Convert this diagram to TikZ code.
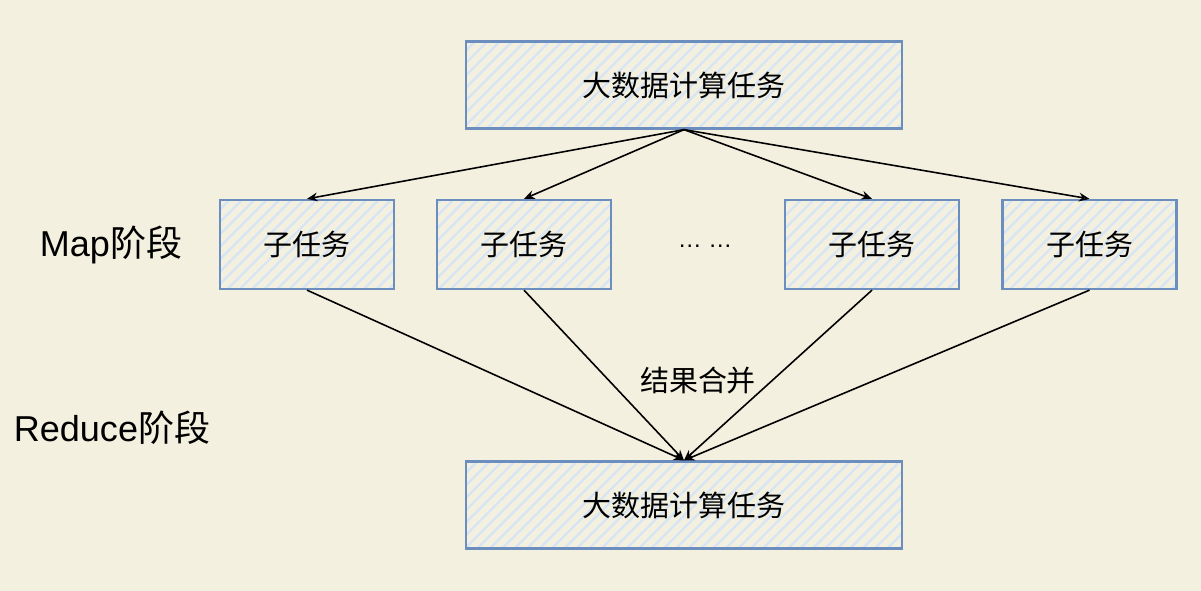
\documentclass[tikz,border=0pt]{standalone}
\usepackage{fontspec}
\setmainfont{Liberation Sans}
\newfontfamily\cjk{Noto Sans CJK SC}
\usetikzlibrary{arrows.meta,patterns.meta,positioning}

\definecolor{paper}{RGB}{243,240,223}
\definecolor{boxline}{RGB}{108,142,191}
\definecolor{hatch}{RGB}{214,228,246}

\tikzset{
  task/.style={draw=boxline, line width=1.3pt, preaction={fill=paper},
    pattern={Lines[angle=45, distance=5pt, line width=1.3pt]}, pattern color=hatch,
    minimum width=8.72cm, minimum height=1.74cm, font=\cjk\fontsize{16.5}{18}\selectfont},
  subtask/.style={task, minimum width=3.48cm, minimum height=1.78cm},
  flow/.style={-{Stealth[length=6pt,width=5pt,open]}, line width=0.9pt, black},
  stage/.style={font=\fontsize{20.5}{22}\selectfont}
}

\begin{document}
\begin{tikzpicture}[x=0.02cm, y=-0.02cm]
\fill[paper] (0,0) rectangle (1201,591);
\useasboundingbox (0,0) rectangle (1201,591);

% tasks
\node[task] (bigtask) at (684,85) {大数据计算任务};
\node[task] (merged) at (684,505) {大数据计算任务};

% map stage
\node[subtask] (sub1) at (307,244.5) {子任务};
\node[subtask] (sub2) at (524,244.5) {子任务};
\node[subtask] (sub3) at (872,244.5) {子任务};
\node[subtask] (sub4) at (1089.5,244.5) {子任务};
\node[font=\fontsize{13.6}{16}\selectfont, anchor=base] (more) at (705,248) {… …};

\node[stage] (maplabel) at (111,245) {Map{\cjk 阶段}};
\node[stage] (reducelabel) at (112,428) {Reduce{\cjk 阶段}};

\foreach \s in {sub1,sub2,sub3,sub4}{
  \draw[flow] (bigtask.south) -- (\s.north);
  \draw[flow] (\s.south) -- (merged.north);
}

\node[font=\cjk\fontsize{16.5}{18}\selectfont] (mergelabel) at (698,381) {结果合并};
\end{tikzpicture}
\end{document}
